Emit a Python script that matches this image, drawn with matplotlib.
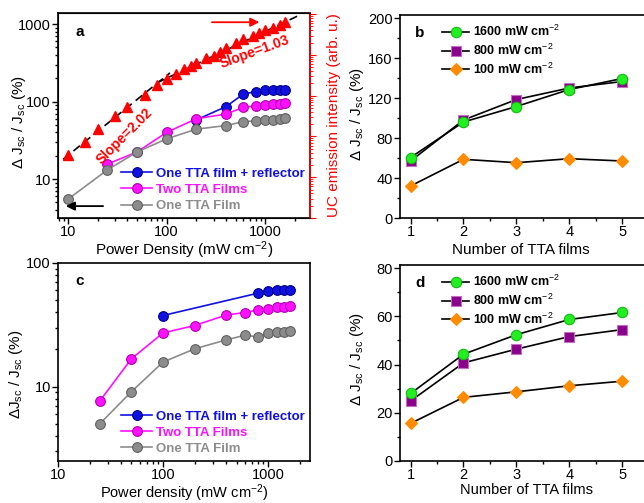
import matplotlib
matplotlib.use("Agg")
import matplotlib.pyplot as plt
from matplotlib.ticker import LogLocator, NullFormatter, MultipleLocator, FixedLocator

plt.rcParams['font.family'] = ['Liberation Sans', 'DejaVu Sans']
plt.rcParams['mathtext.fontset'] = 'custom'
plt.rcParams['mathtext.rm'] = 'Liberation Sans'
plt.rcParams['mathtext.it'] = 'Liberation Sans:italic'
plt.rcParams['mathtext.bf'] = 'Liberation Sans:bold'
plt.rcParams['font.size'] = 10

# ---------------- data: panel a ----------------
a_power_refl = [200, 400, 600, 800, 1000, 1200, 1400, 1600]
a_refl = [58, 86, 125, 134, 139, 140, 142, 143]
a_power = [25, 50, 100, 200, 400, 600, 800, 1000, 1200, 1400, 1600]
a_two = [15.6, 22.3, 40, 60, 69, 84, 88, 90, 92, 94, 97]
a_power_one = [10, 25, 50, 100, 200, 400, 600, 800, 1000, 1200, 1400, 1600]
a_one = [5.5, 13.1, 22.3, 33, 44, 49, 55, 56.5, 57, 58, 59, 60.5]

uc_power = [10, 15, 20, 30, 40, 60, 80, 100, 125, 150, 175, 200, 250, 300,
            350, 400, 500, 600, 750, 875, 1000, 1200, 1400, 1600]
uc_int = [36, 73, 154, 325, 540, 1060, 1850, 2550, 3500, 4470, 5400, 6500,
          8300, 9460, 12000, 15100, 20000, 24100, 29000, 33800, 40000, 44700,
          54000, 65000]
fit1_x = [8.9, 108]
fit1_y = [27.5, 3630]
fit2_x = [80, 2110]
fit2_y = [2075, 89000]

# ---------------- data: panel b ----------------
films = [1, 2, 3, 4, 5]
b_1600 = [60.5, 96, 111.5, 128.5, 139.5]
b_800 = [57, 98, 118.5, 130, 136.5]
b_100 = [32, 58.7, 55.3, 59.3, 57]

# ---------------- data: panel c ----------------
c_power_refl = [100, 800, 1000, 1200, 1400, 1600]
c_refl = [37.6, 57, 59.8, 60.4, 60.7, 61]
c_power = [25, 50, 100, 200, 400, 600, 800, 1000, 1200, 1400, 1600]
c_two = [7.65, 16.8, 27.2, 31.2, 38, 39.7, 41.7, 42.5, 43.8, 44.3, 45]
c_one = [5.0, 9.1, 15.8, 20.2, 23.9, 26, 25.3, 26.9, 27.5, 27.7, 28.1]

# ---------------- data: panel d ----------------
d_1600 = [28, 44.3, 52.4, 58.7, 61.6]
d_800 = [24.9, 40.7, 46.4, 51.6, 54.5]
d_100 = [15.6, 26.4, 28.7, 31.2, 33.1]

series_labels = ['One TTA film + reflector', 'Two TTA Films', 'One TTA Film']
series_colors = ['#1010e0', '#ff10ff', '#8c8c8c']
power_labels = ['1600 mW cm$^{-2}$', '800 mW cm$^{-2}$', '100 mW cm$^{-2}$']

W, H = 644, 503
fig = plt.figure(figsize=(W / 100, H / 100), dpi=100)

TICK_FS = 10.5
LAB_FS = 11

def ax_px(l, t, r, b):
    return fig.add_axes([l / W, 1 - b / H, (r - l) / W, (b - t) / H])

def style_ax(ax):
    ax.tick_params(which='both', direction='out', labelsize=TICK_FS, width=1)
    ax.tick_params(which='major', length=4, pad=1.2)
    ax.tick_params(which='minor', length=2.5)
    for s in ax.spines.values():
        s.set_linewidth(1.2)

ylab = r'$\Delta$ J$_{\rm sc}$ / J$_{\rm sc}$ (%)'

def sphere_plot(ax, x, y, color, label, ms=7):
    edge = {'#1010e0': '#00008a', '#ff10ff': '#b000b0', '#8c8c8c': '#606060'}[color]
    return ax.plot(x, y, '-', color=color, lw=1.2, marker='o', ms=ms,
                   mfc=color, mec=edge, mew=0.8, label=label)[0]

# ================= panel a =================
axa = ax_px(58, 13, 310, 218)
axa.set_xscale('log'); axa.set_yscale('log')
axa.set_xlim(7.9, 2850)
axa.set_ylim(3.14, 1390)
h1 = sphere_plot(axa, a_power_refl, a_refl, series_colors[0], series_labels[0])
h2 = sphere_plot(axa, a_power, a_two, series_colors[1], series_labels[1])
h3 = sphere_plot(axa, a_power_one, a_one, series_colors[2], series_labels[2])
axa.set_yticks([10, 100, 1000])
axa.set_yticklabels(['10', '100', '1000'])
axa.set_xticks([10, 100, 1000])
axa.set_xticklabels(['10', '100', '1000'])
axa.xaxis.set_minor_locator(LogLocator(base=10, subs=range(2, 10)))
axa.yaxis.set_minor_locator(LogLocator(base=10, subs=range(2, 10)))
axa.xaxis.set_minor_formatter(NullFormatter())
axa.yaxis.set_minor_formatter(NullFormatter())
style_ax(axa)
axa.set_xlabel('Power Density (mW cm$^{-2}$)', fontsize=LAB_FS)
axa.xaxis.set_label_coords(0.5, -0.105)
axa.set_ylabel(ylab, fontsize=LAB_FS)
axa.yaxis.set_label_coords(-0.118, 0.47)
axa.text(0.07, 0.89, 'a', transform=axa.transAxes, fontsize=11, fontweight='bold')
leg = axa.legend(handles=[h1, h2, h3], loc='lower left', bbox_to_anchor=(0.22, -0.01),
                 frameon=False, handlelength=2.3, handletextpad=0.3,
                 labelspacing=0.3, borderaxespad=0.2,
                 prop={'weight': 'bold', 'size': 9.5})
for t, c in zip(leg.get_texts(), series_colors):
    t.set_color(c)

axr = axa.twinx()
axr.set_yscale('log')
axr.set_ylim(1, 1.07e5)
axr.plot(fit1_x, fit1_y, color='black', ls=(0, (5, 3)), lw=1.2)
axr.plot(fit2_x, fit2_y, color='black', ls=(0, (5, 3)), lw=1.2)
axr.plot(uc_power, uc_int, ls='none', marker='^', ms=7, color='#ff0000', mec='#ff0000')
axr.yaxis.set_major_locator(LogLocator(base=10, numticks=10))
axr.yaxis.set_minor_locator(LogLocator(base=10, subs=range(2, 10), numticks=20))
axr.yaxis.set_major_formatter(NullFormatter())
axr.yaxis.set_minor_formatter(NullFormatter())
axr.tick_params(axis='y', which='both', direction='out', colors='#ff0000')
axr.tick_params(axis='y', which='major', length=4)
axr.tick_params(axis='y', which='minor', length=2.5)
axr.spines['right'].set_color('#ff0000')
axr.spines['right'].set_linewidth(1.2)
axr.set_ylabel('UC emission intensity (arb. u.)', color='#ff0000', fontsize=LAB_FS, labelpad=5)
axr.set_xlim(7.9, 2850)

axa.text(0.265, 0.40, 'Slope=2.02', transform=axa.transAxes, color='#ff0000',
         fontsize=10, fontweight='bold', rotation=45, ha='center', va='center')
axa.text(0.78, 0.81, 'Slope=1.03', transform=axa.transAxes, color='#ff0000',
         fontsize=10, fontweight='bold', rotation=20, ha='center', va='center')
axa.annotate('', xy=(0.81, 0.955), xytext=(0.6, 0.955), xycoords='axes fraction',
             arrowprops=dict(arrowstyle='-|>', color='#ff0000', lw=1.3, mutation_scale=13))
axa.annotate('', xy=(0.02, 0.058), xytext=(0.19, 0.058), xycoords='axes fraction',
             arrowprops=dict(arrowstyle='-|>', color='black', lw=1.3, mutation_scale=13))

# ================= panel b / d helper =================
def films_panel(ax, v1600, v800, v100, ymax, major, minor, letter, xlab_y, ylab_y, xlab_fs):
    l1 = ax.plot(films, v1600, '-', color='black', lw=1.2, marker='o', ms=7.5,
                 mfc='#22ee22', mec='#11bb11', mew=0.8, label=power_labels[0], zorder=3)[0]
    l2 = ax.plot(films, v800, '-', color='black', lw=1.2, marker='s', ms=6.5,
                 mfc='#8b008b', mec='#c070c0', mew=0.8, label=power_labels[1], zorder=2)[0]
    l3 = ax.plot(films, v100, '-', color='black', lw=1.2, marker='D', ms=6.5,
                 mfc='#ff8c00', mec='#ff8c00', mew=0.8, label=power_labels[2], zorder=2)[0]
    ax.set_xlim(0.8, 5.6)
    ax.set_ylim(0, ymax)
    ax.xaxis.set_major_locator(FixedLocator(films))
    ax.xaxis.set_minor_locator(MultipleLocator(0.5))
    ax.yaxis.set_major_locator(MultipleLocator(major))
    ax.yaxis.set_minor_locator(MultipleLocator(minor))
    style_ax(ax)
    if xlab_y is None:
        ax.set_xlabel('Number of TTA films', fontsize=xlab_fs, labelpad=0.3)
    else:
        ax.set_xlabel('Number of TTA films', fontsize=xlab_fs)
        ax.xaxis.set_label_coords(0.475, xlab_y)
    ax.set_ylabel(ylab, fontsize=LAB_FS)
    ax.yaxis.set_label_coords(-0.135, ylab_y)
    ax.text(0.06, 0.89, letter, transform=ax.transAxes, fontsize=11, fontweight='bold')
    lg = ax.legend(handles=[l1, l2, l3], loc='upper left', bbox_to_anchor=(0.13, 1.0),
                   frameon=False, handlelength=2.2, handletextpad=0.3,
                   labelspacing=0.3, borderaxespad=0.3, prop={'weight': 'bold', 'size': 9})
    return lg

axb = ax_px(400, 15, 654, 218)
films_panel(axb, b_1600, b_800, b_100, 203, 40, 20, 'b', -0.125, 0.51, LAB_FS)

# ================= panel c =================
axc = ax_px(58, 263, 310, 461)
axc.set_xscale('log'); axc.set_yscale('log')
axc.set_xlim(10, 2500)
axc.set_ylim(2.5, 100)
k1 = sphere_plot(axc, c_power_refl, c_refl, series_colors[0], series_labels[0])
k2 = sphere_plot(axc, c_power, c_two, series_colors[1], series_labels[1])
k3 = sphere_plot(axc, c_power, c_one, series_colors[2], series_labels[2])
axc.set_yticks([10, 100]); axc.set_yticklabels(['10', '100'])
axc.set_xticks([10, 100, 1000]); axc.set_xticklabels(['10', '100', '1000'])
axc.xaxis.set_minor_locator(LogLocator(base=10, subs=range(2, 10)))
axc.yaxis.set_minor_locator(LogLocator(base=10, subs=range(2, 10)))
axc.xaxis.set_minor_formatter(NullFormatter())
axc.yaxis.set_minor_formatter(NullFormatter())
style_ax(axc)
axc.set_xlabel('Power density (mW cm$^{-2}$)', fontsize=10.5, labelpad=0.2)
axc.set_ylabel(r'$\Delta$J$_{\rm sc}$ / J$_{\rm sc}$ (%)', fontsize=LAB_FS)
axc.yaxis.set_label_coords(-0.13, 0.44)
axc.text(0.07, 0.89, 'c', transform=axc.transAxes, fontsize=11, fontweight='bold')
legc = axc.legend(handles=[k1, k2, k3], loc='lower left', bbox_to_anchor=(0.22, -0.01),
                  frameon=False, handlelength=2.3, handletextpad=0.3,
                  labelspacing=0.3, borderaxespad=0.2,
                  prop={'weight': 'bold', 'size': 9.5})
for t, c in zip(legc.get_texts(), series_colors):
    t.set_color(c)

# ================= panel d =================
axd = ax_px(400, 265, 654, 461)
films_panel(axd, d_1600, d_800, d_100, 81.3, 20, 10, 'd', None, 0.52, 10.5)

fig.savefig('out.png', dpi=100)
